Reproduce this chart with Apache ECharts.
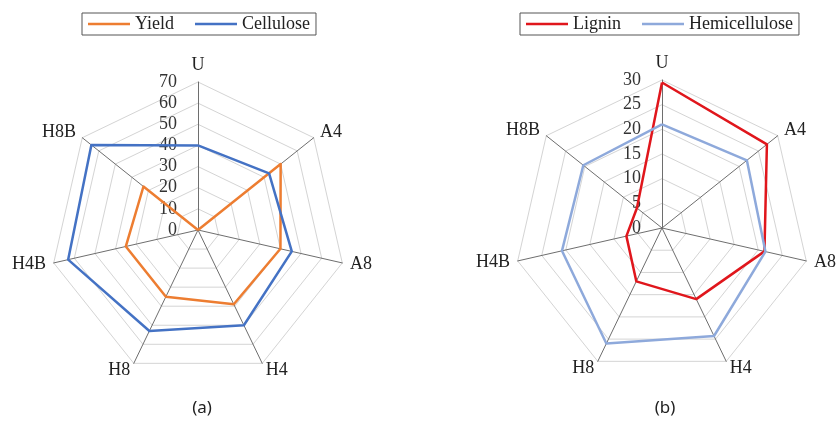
<!DOCTYPE html>
<html>
<head>
<meta charset="utf-8">
<script src="https://cdn.jsdelivr.net/npm/echarts@6/dist/echarts.min.js"></script>
<style>html,body{margin:0;padding:0;background:#fff;}#c{width:836px;height:423px;}</style>
</head>
<body>
<div id="c"></div>
<script>
// categories in clockwise order starting from the top
const axes = ['U', 'A4', 'A8', 'H4', 'H8', 'H4B', 'H8B'];
const yieldVals = [0, 50, 40, 39, 35, 35, 33];
const celluloseVals = [40, 43, 45.5, 50, 53, 63, 64.5];
const ligninVals = [29.5, 27.2, 21.3, 16, 12, 7.4, 6.5];
const hemiVals = [21, 22, 21.5, 24.3, 26, 20.8, 20.4];
const maxA = 70, splitA = 7;
const maxB = 30, splitB = 6;

// ECharts radar runs counter-clockwise; reorder so categories go clockwise
function cw(arr) { return [arr[0]].concat(arr.slice(1).reverse()); }

const serif = '"Liberation Serif", "Times New Roman", serif';

function indicators(max) {
  return cw(axes).map((n, i) => i === 0
    ? { name: n, min: 0, max: max, axisLabel: { show: true } }
    : { name: n, min: 0, max: max });
}
function radarCfg(center, max, split) {
  return {
    center: center,
    radius: 148,
    startAngle: 90,
    shape: 'polygon',
    splitNumber: split,
    indicator: indicators(max),
    axisName: { color: '#222', fontFamily: serif, fontSize: 18 },
    nameGap: 8,
    splitArea: { show: false },
    splitLine: { lineStyle: { color: '#d4d4d4', width: 1 } },
    axisLine: { lineStyle: { color: '#6e6e6e', width: 1 } },
    axisTick: { show: false },
    axisLabel: { show: false, color: '#333', fontFamily: serif, fontSize: 18, margin: 21 }
  };
}
const legendBase = {
  top: 13,
  orient: 'horizontal',
  icon: 'rect',
  itemWidth: 42,
  itemHeight: 2.5,
  itemGap: 21,
  borderColor: '#555',
  borderWidth: 1,
  padding: [2, 6, 2, 6],
  textStyle: { fontFamily: serif, fontSize: 18, color: '#222' }
};
const subStyle = { fontFamily: '"Noto Sans", "DejaVu Sans", sans-serif', fontSize: 17, fontWeight: 'normal', color: '#222' };
const chart = echarts.init(document.getElementById('c'), null, { renderer: 'canvas' });
chart.setOption({
  backgroundColor: '#fff',
  animation: false,
  title: [
    { text: '(a)', left: 197, top: 395, textAlign: 'center', textStyle: subStyle },
    { text: '(b)', left: 660, top: 395, textAlign: 'center', textStyle: subStyle }
  ],
  legend: [
    Object.assign({}, legendBase, { left: 82, data: ['Yield', 'Cellulose'] }),
    Object.assign({}, legendBase, { left: 520, data: ['Lignin', 'Hemicellulose'] })
  ],
  radar: [radarCfg([198, 230], maxA, splitA), radarCfg([662, 228], maxB, splitB)],
  series: [
    { type: 'radar', radarIndex: 0, symbol: 'none',
      data: [
        { name: 'Yield', value: cw(yieldVals), lineStyle: { color: '#ED7D31', width: 2.5 }, itemStyle: { color: '#ED7D31' } },
        { name: 'Cellulose', value: cw(celluloseVals), lineStyle: { color: '#4472C4', width: 2.5 }, itemStyle: { color: '#4472C4' } }
      ] },
    { type: 'radar', radarIndex: 1, symbol: 'none',
      data: [
        { name: 'Lignin', value: cw(ligninVals), lineStyle: { color: '#E0161C', width: 2.5 }, itemStyle: { color: '#E0161C' } },
        { name: 'Hemicellulose', value: cw(hemiVals), lineStyle: { color: '#8EA9DB', width: 2.5 }, itemStyle: { color: '#8EA9DB' } }
      ] }
  ]
});
</script>
</body>
</html>
